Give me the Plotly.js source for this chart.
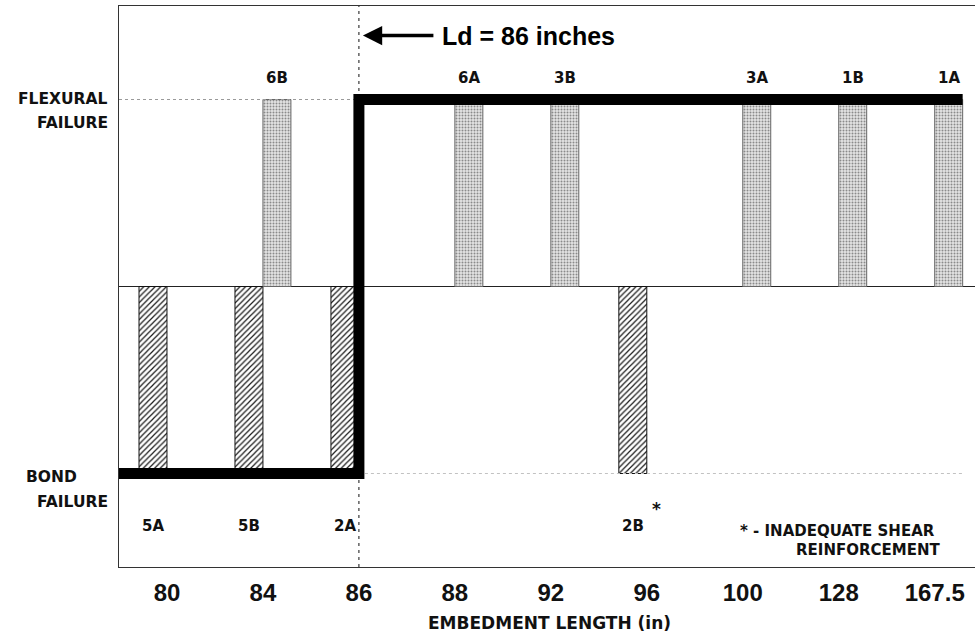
<!DOCTYPE html>
<html>
<head>
<meta charset="utf-8">
<script src="https://cdn.plot.ly/plotly-3.0.1.min.js"></script>
<style>
html,body{margin:0;padding:0;background:#fff;}
#chart{width:975px;height:632px;}
</style>
</head>
<body>
<div id="chart"></div>
<script>
// ---- data ----
const categories = ['80', '84', '86', '88', '92', '96', '100', '128', '167.5'];
const bondLengths = ['80', '84', '86', '96'];
const bondSpecimens = ['5A', '5B', '2A', '2B'];
const bondValues = [-1, -1, -1, -1];
const flexLengths = ['84', '88', '92', '100', '128', '167.5'];
const flexSpecimens = ['6B', '6A', '3B', '3A', '1B', '1A'];
const flexValues = [1, 1, 1, 1, 1, 1];
const inadequateShear = ['2B'];
const developmentLength = '86';
const BOND_LEVEL = -1;
const FLEX_LEVEL = 1;

// ---- derived ----
const idx = c => categories.indexOf(c);
const barGap = 0.417;
const barHalf = (1 - barGap) / 4;        // half width of one bar inside a group of two
const bondX = bondLengths.map(idx);
const flexX = flexLengths.map(idx);
const ldX = idx(developmentLength);
const xMin = -0.5;
const xMax = 8.42;
const lineEnd = categories.length - 1 + 2 * barHalf;

const mono = 'DejaVu Sans, Verdana, sans-serif';
const ari = 'Liberation Sans, Arial, Helvetica, sans-serif';

const traces = [
  {
    type: 'bar', name: 'Bond failure', x: bondX, y: bondValues,
    marker: {
      color: '#ffffff',
      line: {color: '#111', width: 1},
      pattern: {shape: '/', fgcolor: '#1a1a1a', bgcolor: '#ffffff', size: 4, solidity: 0.3}
    },
    hoverinfo: 'skip'
  },
  {
    type: 'bar', name: 'Flexural failure', x: flexX, y: flexValues,
    marker: {
      color: '#e2e2e2',
      line: {color: '#666', width: 1},
      pattern: {shape: '.', fgcolor: '#8a8a8a', bgcolor: '#e4e4e4', size: 3, solidity: 0.35}
    },
    hoverinfo: 'skip'
  },
  // faint dotted reference levels
  {
    type: 'scatter', mode: 'lines', x: [xMin, ldX], y: [FLEX_LEVEL, FLEX_LEVEL],
    line: {color: '#9a9a9a', width: 1, dash: 'dot'}, hoverinfo: 'skip'
  },
  {
    type: 'scatter', mode: 'lines', x: [ldX, lineEnd], y: [BOND_LEVEL, BOND_LEVEL],
    line: {color: '#c2c2c2', width: 1, dash: 'dot'}, hoverinfo: 'skip'
  },
  // Ld dashed vertical
  {
    type: 'scatter', mode: 'lines', x: [ldX, ldX], y: [-1.5, 1.5],
    line: {color: '#111', width: 1, dash: '3px,4px'}, hoverinfo: 'skip'
  },
  // predicted failure mode step line
  {
    type: 'scatter', mode: 'lines',
    x: [xMin, ldX, ldX, lineEnd],
    y: [BOND_LEVEL, BOND_LEVEL, FLEX_LEVEL, FLEX_LEVEL],
    line: {color: '#000', width: 11, shape: 'linear'}, hoverinfo: 'skip'
  }
];

const annotations = [];
bondSpecimens.forEach((s, i) => {
  annotations.push({
    x: bondX[i] - barHalf, y: -1.283, xref: 'x', yref: 'y', text: s, showarrow: false,
    font: {family: mono, size: 15, color: '#111', weight: 'bold'}
  });
  if (inadequateShear.indexOf(s) >= 0) {
    annotations.push({
      x: bondX[i] - barHalf, y: -1.19, xref: 'x', yref: 'y', xshift: 24, text: '*', showarrow: false,
      font: {family: mono, size: 17, color: '#111', weight: 'bold'}
    });
  }
});
flexSpecimens.forEach((s, i) => {
  annotations.push({
    x: flexX[i] + barHalf, y: 1.115, xref: 'x', yref: 'y', text: s, showarrow: false,
    font: {family: mono, size: 15, color: '#111', weight: 'bold'}
  });
});

// y-level labels
const yl = {family: mono, size: 15.5, color: '#111', weight: 'bold'};
annotations.push(
  {xref: 'paper', yref: 'y', x: 0, xshift: -9, xanchor: 'right', y: 1.005, text: 'FLEXURAL', showarrow: false, font: yl},
  {xref: 'paper', yref: 'y', x: 0, xshift: -9, xanchor: 'right', y: 0.872, text: 'FAILURE', showarrow: false, font: yl},
  {xref: 'paper', yref: 'y', x: 0, xshift: -95, xanchor: 'left', y: -1.02, text: 'BOND', showarrow: false, font: yl},
  {xref: 'paper', yref: 'y', x: 0, xshift: -9, xanchor: 'right', y: -1.155, text: 'FAILURE', showarrow: false, font: yl}
);

// Ld arrow + text
annotations.push(
  {xref: 'x', yref: 'y', x: ldX, y: 1.342, text: '', showarrow: true, ax: 76, ay: 0,
   arrowhead: 2, arrowsize: 1.1, arrowwidth: 3.5, arrowcolor: '#000', standoff: 4},
  {xref: 'x', yref: 'y', x: ldX, y: 1.342, xshift: 81, xanchor: 'left', text: 'Ld = 86 inches', showarrow: false,
   font: {family: ari, size: 25, color: '#000', weight: 'bold'}}
);

// note
const nf = {family: mono, size: 15, color: '#111', weight: 'bold'};
annotations.push(
  {xref: 'paper', yref: 'y', x: (937 - 119) / 856, xanchor: 'right', y: -1.305, text: '* - INADEQUATE SHEAR', showarrow: false, font: nf},
  {xref: 'paper', yref: 'y', x: (942 - 119) / 856, xanchor: 'right', y: -1.41, text: 'REINFORCEMENT', showarrow: false, font: nf}
);

// x title
annotations.push({
  xref: 'paper', yref: 'paper', x: 0.5035, y: -0.0998, yanchor: 'middle', text: 'EMBEDMENT LENGTH (in)',
  showarrow: false, font: {family: mono, size: 17, color: '#111', weight: 'bold'}
});

const layout = {
  width: 975, height: 632,
  margin: {l: 119, r: 0, t: 6, b: 65, pad: 0},
  paper_bgcolor: '#fff', plot_bgcolor: '#fff',
  showlegend: false,
  barmode: 'group', bargap: barGap, bargroupgap: 0,
  xaxis: {
    type: 'linear', range: [xMin, xMax], fixedrange: true,
    tickmode: 'array', tickvals: categories.map((c, i) => i), ticktext: categories,
    ticks: '', showgrid: false, zeroline: false,
    showline: true, mirror: true, linecolor: '#333', linewidth: 1,
    tickfont: {family: ari, size: 24, color: '#111', weight: 'bold'},
    ticklabelstandoff: 4
  },
  yaxis: {
    range: [-1.5, 1.5], fixedrange: true,
    showticklabels: false, ticks: '', showgrid: false,
    zeroline: true, zerolinecolor: '#222', zerolinewidth: 1,
    showline: true, mirror: false, linecolor: '#333', linewidth: 1
  },
  annotations: annotations
};

Plotly.newPlot('chart', traces, layout, {displayModeBar: false, staticPlot: true});
</script>
</body>
</html>
